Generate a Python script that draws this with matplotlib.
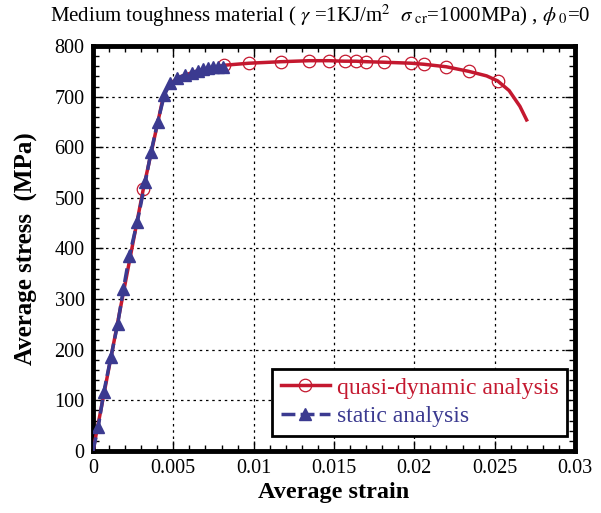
import matplotlib.pyplot as plt
from matplotlib.ticker import MultipleLocator

plt.rcParams['font.family'] = ['Liberation Serif', 'DejaVu Serif']
plt.rcParams['mathtext.fontset'] = 'stix'

# quasi-dynamic analysis (full curve, markers on a subset)
quasi_strain = [0.0, 0.00313, 0.0044, 0.0048, 0.0055, 0.0065, 0.00817, 0.0097, 0.0117,
                0.01346, 0.01469, 0.01567, 0.01637, 0.01699, 0.01809, 0.01981, 0.02058,
                0.02199, 0.02338, 0.0245, 0.02519, 0.0259, 0.02657, 0.02699]
quasi_stress = [0, 517, 703, 726, 740, 751, 762, 766, 769,
                771, 771, 770, 770, 769, 768, 766, 764,
                759, 750, 741, 731, 712, 681, 654]
quasi_marks = [1, 6, 7, 8, 9, 10, 11, 12, 13, 14, 15, 16, 17, 18, 20]

# static analysis
static_strain = [0.0, 0.00033, 0.00068, 0.00112, 0.00154, 0.00189, 0.00226, 0.00276, 0.00326,
                 0.00361, 0.00403, 0.00444, 0.00479, 0.0052, 0.00573, 0.00614, 0.00656,
                 0.00687, 0.00718, 0.00749, 0.0078, 0.00811]
static_stress = [0, 48, 117, 186, 251, 319, 385, 453, 532,
                 590, 650, 703, 726, 736, 743, 747, 751,
                 754, 756, 758, 759, 759]

red = '#c4182f'
blue = '#3b3a90'

fig = plt.figure(figsize=(6.01, 5.13), dpi=100)
ax = fig.add_axes([0.1547, 0.1209, 0.802, 0.7894])

ax.plot(quasi_strain, quasi_stress, '-', color=red, lw=2.5, marker='o', ms=9,
        mfc='none', mec=red, mew=0.9, markevery=quasi_marks,
        label='quasi-dynamic analysis', zorder=3)
ax.plot(static_strain, static_stress, '--', color=blue, lw=2.5, marker='^', ms=8,
        mfc=blue, mec=blue, markevery=list(range(1, len(static_strain))),
        dashes=(4, 1.5), label='static analysis', zorder=4)

ax.set_xlim(0, 0.03)
ax.set_ylim(0, 800)
ax.xaxis.set_major_locator(MultipleLocator(0.005))
ax.xaxis.set_minor_locator(MultipleLocator(0.001))
ax.yaxis.set_major_locator(MultipleLocator(100))
ax.yaxis.set_minor_locator(MultipleLocator(20))
ax.set_xticks([0, 0.005, 0.01, 0.015, 0.02, 0.025, 0.03])
ax.set_xticklabels(['0', '0.005', '0.01', '0.015', '0.02', '0.025', '0.03'])
ax.tick_params(which='both', direction='in', top=True, right=True, labelsize=14.5, pad=6)
ax.tick_params(which='major', length=7, width=1)
ax.tick_params(which='minor', length=4, width=1)
ax.grid(True, which='major', ls=(0, (2, 3)), color='black', lw=0.9)
for s in ax.spines.values():
    s.set_linewidth(3.5)

ax.set_xlabel('Average strain', fontsize=17.5, fontweight='bold', labelpad=3)
ax.set_ylabel('Average stress  (MPa)', fontsize=18, fontweight='bold', labelpad=12)

fig.text(0.083, 0.957, r'Medium toughness material ( $\gamma$ =1KJ/m$^2$  $\sigma_{\ \mathrm{cr}}$=1000MPa) , $\phi_{\ 0}$=0',
         fontsize=15)

leg = ax.legend(loc='lower right', bbox_to_anchor=(0.984, 0.038), fontsize=17, frameon=True,
                fancybox=False, edgecolor='black', framealpha=1, handlelength=2.1,
                borderpad=0.35, labelspacing=0.3, handletextpad=0.3, borderaxespad=0)
leg.get_frame().set_linewidth(2)
for t, c in zip(leg.get_texts(), [red, blue]):
    t.set_color(c)

fig.savefig('out.png', dpi=100)
